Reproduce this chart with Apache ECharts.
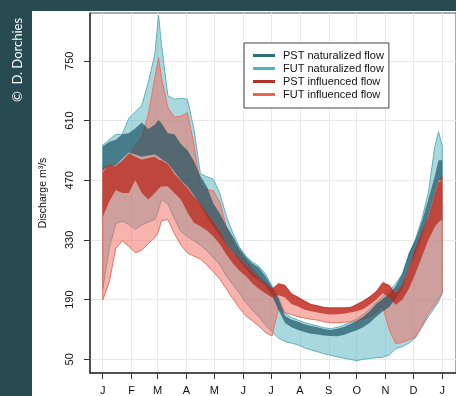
<!DOCTYPE html>
<html><head><meta charset="utf-8">
<script src="https://cdn.jsdelivr.net/npm/echarts@6/dist/echarts.min.js"></script>
<style>html,body{margin:0;padding:0;background:#284b52;} #c{width:456px;height:396px;}</style>
</head><body><div id="c"></div>
<script>
// day of year of each sample
const days = [0,7,14,21,28,35,42,49,56,60,63,70,77,84,91,98,105,112,119,126,133,140,147,154,161,168,175,182,189,196,203,210,217,224,231,238,245,252,259,266,273,280,287,294,301,308,315,322,329,336,343,350,357,361,365];
const monthStarts = [0,31,59,90,120,151,181,212,243,273,304,334,365];
const monthLabels = ['J','F','M','A','M','J','J','A','S','O','N','D','J'];
const yTicks = [50,190,330,470,610,750];

// FUT naturalized flow (envelope)
const futNatHigh = [552,565,577,578,615,630,645,700,765,857,790,668,660,662,660,590,485,478,472,438,385,345,313,292,278,268,250,222,195,158,148,142,136,132,128,124,122,125,130,137,145,155,168,183,198,210,228,250,292,330,378,440,548,584,550];
const futNatLow  = [215,310,368,374,366,355,365,372,378,400,425,415,380,350,338,328,318,305,288,272,245,225,205,183,165,150,130,115,100,92,88,84,77,72,68,63,60,56,53,50,47,50,52,54,55,60,75,80,88,100,125,150,172,185,205];
// PST naturalized flow
const pstNatHigh = [549,560,565,578,580,592,605,590,600,611,604,580,578,555,540,515,480,455,415,392,362,338,310,290,275,265,245,220,192,152,143,138,132,128,125,121,119,122,126,133,140,150,163,180,192,203,222,250,300,330,372,425,480,517,517];
const pstNatLow  = [492,505,505,520,535,530,525,528,530,525,520,510,490,470,455,435,410,385,360,340,318,300,280,262,245,235,222,200,165,135,125,119,114,110,108,106,105,104,107,113,118,125,136,150,162,173,192,215,262,295,335,385,440,470,470];
// FUT influenced flow
const futInfHigh = [500,505,505,512,525,552,570,625,710,757,712,640,618,620,628,555,458,448,445,418,360,325,300,280,262,245,230,215,228,222,203,195,186,178,175,171,170,170,170,171,178,186,196,208,226,222,200,215,250,290,330,370,430,470,480];
const futInfLow  = [189,232,310,328,315,300,306,322,335,350,375,378,345,318,300,292,285,272,255,238,215,192,170,152,140,128,113,105,170,160,155,150,147,144,142,138,136,136,137,138,140,145,150,160,175,120,87,90,96,102,128,158,178,192,207];
// PST influenced flow
const pstInfHigh = [487,508,502,517,533,525,518,522,525,518,517,508,485,468,452,432,415,393,372,350,320,300,285,270,255,240,228,215,228,225,205,197,188,180,177,173,172,172,172,173,180,188,198,210,232,225,205,225,265,310,350,385,440,465,470];
const pstInfLow  = [384,420,447,440,440,470,440,425,440,450,455,455,440,425,395,370,362,352,338,320,295,275,258,245,228,215,205,195,200,195,180,174,166,163,160,157,155,156,157,160,163,168,178,190,205,195,178,190,215,250,290,330,360,372,377];

function band(name, low, high, fill, stroke, color) {
  return {
    type: 'custom', name: name, coordinateSystem: 'cartesian2d', clip: true,
    itemStyle: { color: color },
    encode: { x: 0, y: [1, 2] },
    data: days.map((d, i) => [d, low[i], high[i]]),
    renderItem: function (params, api) {
      if (params.dataIndex !== 0) return null;
      const up = days.map((d, i) => api.coord([d, high[i]]));
      const dn = days.map((d, i) => api.coord([d, low[i]])).reverse();
      return { type: 'polygon', shape: { points: up.concat(dn) },
        style: { fill: fill, stroke: stroke, lineWidth: stroke === 'none' ? 0 : 1 } };
    }
  };
}

const chart = echarts.init(document.getElementById('c'), null, { renderer: 'canvas' });
const txt = '#111';
const ff = 'Liberation Sans';
chart.setOption({
  backgroundColor: '#284b52',
  animation: false,
  graphic: [
    { type: 'rect', z: -100, shape: { x: 32, y: 11, width: 430, height: 390 }, style: { fill: '#ffffff' } },
    { type: 'text', x: 18, y: 60, rotation: Math.PI / 2,
      style: { text: '\u00A9  D. Dorchies', fill: '#ffffff', font: '13px Lato', align: 'center', verticalAlign: 'middle' } }
  ],
  grid: { left: 90, top: 13, width: 373, height: 360, show: true, borderColor: '#555', borderWidth: 1, backgroundColor: 'transparent' },
  xAxis: {
    type: 'value', min: -13.7, max: 379.8,
    axisLine: { show: true, onZero: false, lineStyle: { color: '#333', width: 1.5 } },
    axisTick: { show: true, customValues: monthStarts, length: 6, lineStyle: { color: '#333', width: 1 } },
    axisLabel: { customValues: monthStarts, margin: 12, fontSize: 11, color: txt, fontFamily: ff,
      formatter: function (v) { return monthLabels[monthStarts.indexOf(v)]; } },
    splitLine: { show: true, lineStyle: { color: '#e8e8e8', width: 1 } }
  },
  yAxis: {
    type: 'value', min: 18, max: 862,
    name: 'Discharge m\u00B3/s', nameLocation: 'middle', nameGap: 41, nameRotate: 90,
    nameTextStyle: { fontSize: 10.5, color: txt, fontFamily: ff },
    axisLine: { show: true, onZero: false, lineStyle: { color: '#333', width: 1.5 } },
    axisTick: { show: true, customValues: yTicks, length: 6, lineStyle: { color: '#333', width: 1 } },
    axisLabel: { customValues: yTicks, rotate: 90, margin: 15, fontSize: 11, color: txt, fontFamily: ff },
    splitLine: { show: true, lineStyle: { color: '#e8e8e8', width: 1 } }
  },
  legend: {
    orient: 'vertical', left: 244, top: 43,
    data: [
      { name: 'PST naturalized flow', icon: 'rect' },
      { name: 'FUT naturalized flow', icon: 'rect' },
      { name: 'PST influenced flow', icon: 'rect' },
      { name: 'FUT influenced flow', icon: 'rect' }
    ],
    itemWidth: 22, itemHeight: 3, itemGap: 2,
    padding: [7, 5, 8, 9],
    borderColor: '#444', borderWidth: 1, backgroundColor: '#fff',
    selectedMode: false,
    textStyle: { fontSize: 11, color: txt, fontFamily: ff, padding: [0, 0, 0, 3] }
  },
  series: [
    band('FUT naturalized flow', futNatLow, futNatHigh, 'rgba(85,178,192,0.5)', '#5fb0c0', '#56b0c4'),
    band('FUT influenced flow', futInfLow, futInfHigh, 'rgba(241,103,91,0.5)', '#f0705e', '#f0654f'),
    band('PST naturalized flow', pstNatLow, pstNatHigh, 'rgba(10,70,85,0.62)', 'none', '#2b6f7d'),
    band('PST influenced flow', pstInfLow, pstInfHigh, 'rgba(185,40,30,0.75)', 'none', '#b5322a')
  ]
});
</script></body></html>
